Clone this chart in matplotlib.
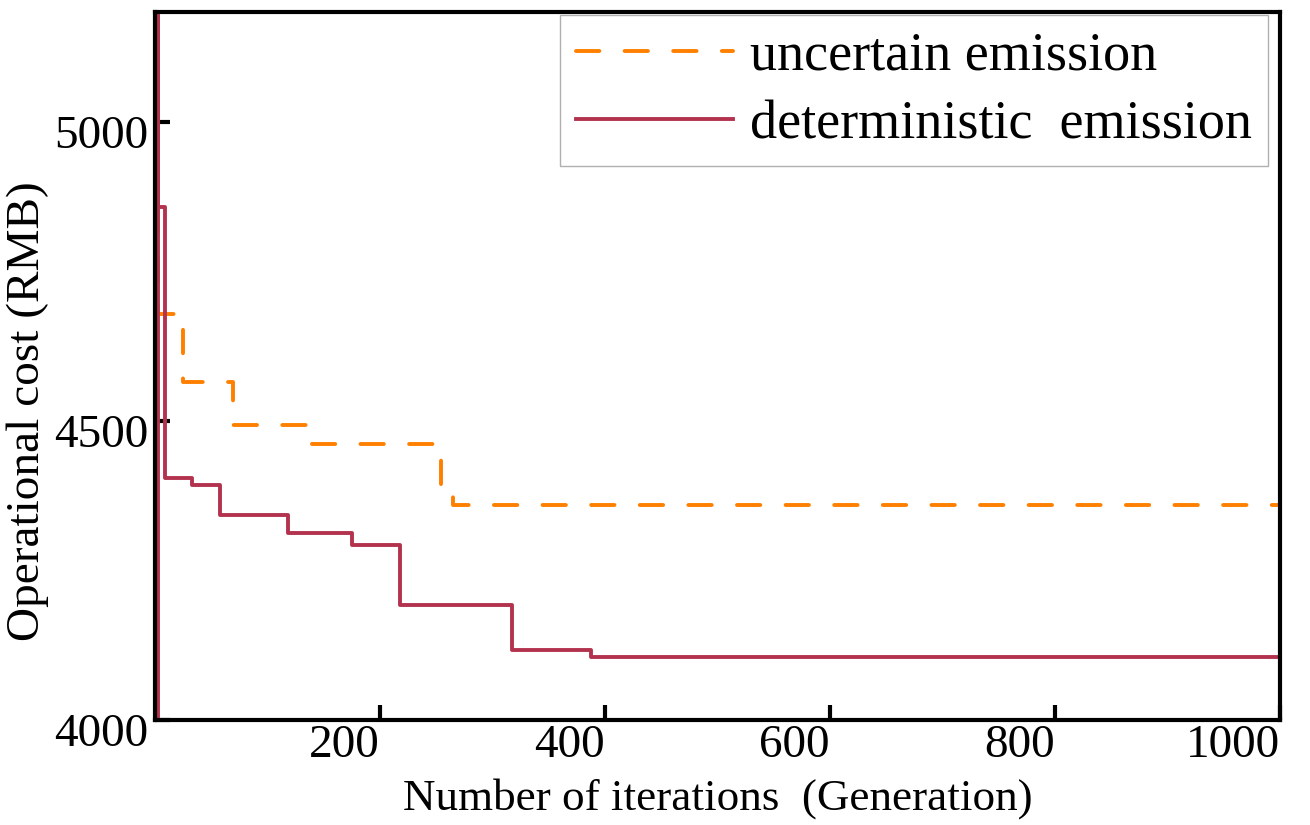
import matplotlib
matplotlib.use("Agg")
import matplotlib.pyplot as plt
import matplotlib.transforms as mtransforms

# iteration at which each step starts, and the cost from there on
det_iter = [1, 2.5, 3, 9, 33, 58, 118, 175, 218, 317, 388, 1000]
det_cost = [3950, 5400, 4858, 4405, 4393, 4342, 4313, 4292, 4192, 4118, 4105, 4105]

unc_iter = [1, 2.5, 25, 69, 140, 254, 265, 1000]
unc_cost = [4850, 4678, 4565, 4493, 4462, 4392, 4360, 4360]

xticks = [200, 400, 600, 800, 1000]
yticks = [4000, 4500, 5000]

plt.rcParams['font.family'] = ['Liberation Serif', 'DejaVu Serif']

fig = plt.figure(figsize=(13.1, 8.25), dpi=100)
ax = fig.add_axes([0.1183, 0.127, 0.977 - 0.1183, 0.9855 - 0.127])

ax.plot(unc_iter, unc_cost, drawstyle='steps-post', color='#ff8000', lw=2.8,
        linestyle=(0, (6, 6.5)), dash_capstyle='round', label='uncertain emission')
ax.plot(det_iter, det_cost, drawstyle='steps-post', color='#b3334f', lw=2.8,
        label='deterministic  emission')

ax.set_xlim(0, 1000)
ax.set_ylim(4000, 5183)
ax.set_xticks(xticks)
ax.set_yticks(yticks)
ax.tick_params(direction='in', length=11, width=3, labelsize=34)
ax.tick_params(axis='x', pad=3)
ax.tick_params(axis='y', pad=5)
for s in ax.spines.values():
    s.set_linewidth(3)

# tick labels sit to the left of / below their ticks
for lab in ax.get_xticklabels():
    lab.set_ha('right')
shift = mtransforms.ScaledTranslation(0, -10 / 100, fig.dpi_scale_trans)
for lab in ax.get_yticklabels():
    lab.set_transform(lab.get_transform() + shift)

ax.set_xlabel('Number of iterations  (Generation)', fontsize=32.5, labelpad=8)
ax.set_ylabel('Operational cost (RMB)', fontsize=34)
ax.yaxis.set_label_coords(-0.094, 0.436)

leg = ax.legend(loc='upper right', bbox_to_anchor=(0.9893, 0.9958), fontsize=39,
                fancybox=False, framealpha=1, edgecolor='#b0b0b0',
                handlelength=2.9, handletextpad=0.3, borderaxespad=0,
                labelspacing=0.33, borderpad=0.3)
leg.get_frame().set_linewidth(1)

fig.savefig('out.png', dpi=100)
